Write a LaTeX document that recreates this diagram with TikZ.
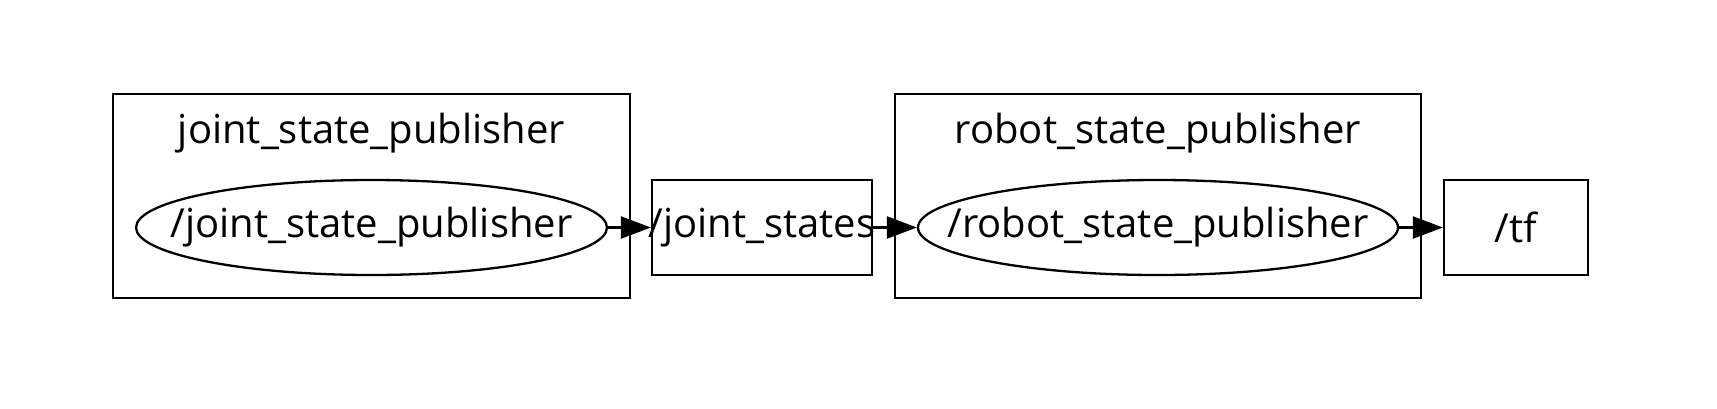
\documentclass[tikz,border=0pt]{standalone}
\usepackage{fontspec}
\setmainfont{Open Sans}
\usetikzlibrary{shapes.geometric,arrows.meta}
\newcommand{\fixtxt}[1]{\makebox[0pt]{\raisebox{-2.5pt}{#1}}}
\begin{document}
\begin{tikzpicture}[x=0.5pt,y=-0.5pt,
  every node/.style={font=\fontsize{20}{24}\selectfont, line width=1.15pt, inner sep=0pt},
  cluster/.style={draw, rectangle, minimum height=102pt},
  nodeell/.style={draw, ellipse, minimum height=47.5pt},
  topic/.style={draw, rectangle, minimum height=47.5pt},
  conn/.style={line width=1.15pt, -{Triangle[length=15pt,width=11pt]}}]
\useasboundingbox (0,0) rectangle (1717,408);
\fill[white] (0,0) rectangle (1717,408);
\node[cluster, minimum width=258.5pt] (c1) at (371.5,196) {};
\node (t1) at (371.5,133) {joint\_state\_publisher};
\node[nodeell, minimum width=235.5pt] (n1) at (371.5,227.5) {\fixtxt{/joint\_state\_publisher}};
\node[topic, minimum width=110pt] (js) at (762,227.5) {\fixtxt{/joint\_states}};
\node[cluster, minimum width=263pt] (c2) at (1158,196) {};
\node (t2) at (1158,133) {robot\_state\_publisher};
\node[nodeell, minimum width=240pt] (n2) at (1158,227.5) {\fixtxt{/robot\_state\_publisher}};
\node[topic, minimum width=72pt] (tf) at (1516,227.5) {\fixtxt{/tf}};
\draw[conn] (n1.east) -- (js.west);
\draw[conn] (js.east) -- (n2.west);
\draw[conn] (n2.east) -- (tf.west);
\end{tikzpicture}
\end{document}
